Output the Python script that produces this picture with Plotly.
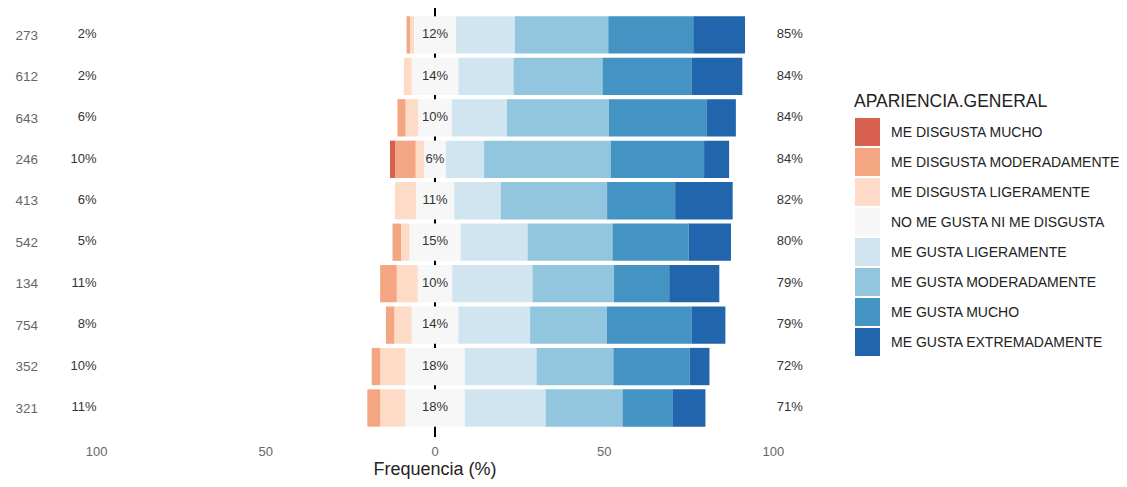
import plotly.graph_objects as go

# ---------------- data ----------------
rows = ["273", "612", "643", "246", "413", "542", "134", "754", "352", "321"]

levels = [
    "ME DISGUSTA MUCHO",
    "ME DISGUSTA MODERADAMENTE",
    "ME DISGUSTA LIGERAMENTE",
    "NO ME GUSTA NI ME DISGUSTA",
    "ME GUSTA LIGERAMENTE",
    "ME GUSTA MODERADAMENTE",
    "ME GUSTA MUCHO",
    "ME GUSTA EXTREMADAMENTE",
]

dis_mucho = [0.0, 0.0, 0.0, 1.5, 0.0, 0.0, 0.0, 0.0, 0.0, 0.0]
dis_mod = [1.0, 0.0, 2.4, 6.1, 0.0, 2.5, 4.9, 2.5, 2.5, 3.8]
dis_lig = [1.2, 2.3, 3.7, 2.5, 6.2, 2.5, 6.2, 5.1, 7.4, 7.4]
neutral = [12.4, 13.8, 10.0, 6.4, 11.3, 15.1, 10.2, 13.8, 17.6, 17.6]
gusta_lig = [17.4, 16.3, 16.2, 11.3, 13.8, 19.8, 23.7, 21.2, 21.2, 23.9]
gusta_mod = [27.6, 26.3, 30.2, 37.4, 31.4, 25.1, 24.1, 22.7, 22.7, 22.7]
gusta_mucho = [25.1, 26.4, 28.8, 27.6, 20.1, 22.5, 16.3, 25.1, 22.5, 14.9]
gusta_ext = [15.3, 14.9, 8.7, 7.4, 17.0, 12.5, 14.8, 9.9, 5.9, 9.6]

colors = ["#D6604D", "#F4A582", "#FDDBC7", "#F7F7F7",
          "#D1E5F0", "#92C5DE", "#4393C3", "#2166AC"]

x_ticks = [-100, -50, 0, 50, 100]
x_ticktext = ["100", "50", "0", "50", "100"]

# ---------------- layout geometry ----------------
# the html page body has an 8px margin, so page pixel = figure pixel + 8
OFF = 8
W, H = 1127, 487
ML, MT = 39 - OFF, 8 - OFF
PW = 792
PB = 437 - OFF            # panel bottom in figure pixels
MR = W - ML - PW
MB = H - PB
PH = H - MT - MB


def px_x(px):
    return (px - OFF - ML) / PW


def px_y(py):
    return 1 - (py - OFF - MT) / PH


fig = go.Figure()

bar_kw = dict(orientation="h", y=rows, width=0.9, showlegend=False,
              marker_line_width=0, hoverinfo="skip")

# negative side (stacked outward from 0)
fig.add_trace(go.Bar(x=[-v / 2 for v in neutral], marker_color=colors[3], **bar_kw))
fig.add_trace(go.Bar(x=[-v for v in dis_lig], marker_color=colors[2], **bar_kw))
fig.add_trace(go.Bar(x=[-v for v in dis_mod], marker_color=colors[1], **bar_kw))
fig.add_trace(go.Bar(x=[-v for v in dis_mucho], marker_color=colors[0], **bar_kw))
# positive side
fig.add_trace(go.Bar(x=[v / 2 for v in neutral], marker_color=colors[3], **bar_kw))
fig.add_trace(go.Bar(x=gusta_lig, marker_color=colors[4], **bar_kw))
fig.add_trace(go.Bar(x=gusta_mod, marker_color=colors[5], **bar_kw))
fig.add_trace(go.Bar(x=gusta_mucho, marker_color=colors[6], **bar_kw))
fig.add_trace(go.Bar(x=gusta_ext, marker_color=colors[7], **bar_kw))

low = [a + b + c for a, b, c in zip(dis_mucho, dis_mod, dis_lig)]
high = [a + b + c + d for a, b, c, d in zip(gusta_lig, gusta_mod, gusta_mucho, gusta_ext)]

font_main = "Liberation Sans, Arial, sans-serif"

# percentage labels
fig.add_trace(go.Scatter(
    x=[-100] * len(rows), y=rows, mode="text",
    text=[f"{round(v):d}%" for v in low], textposition="middle left",
    textfont=dict(size=13, color="#333333", family=font_main),
    showlegend=False, hoverinfo="skip"))
fig.add_trace(go.Scatter(
    x=[0] * len(rows), y=rows, mode="text",
    text=[f"{round(v):d}%" for v in neutral], textposition="middle center",
    textfont=dict(size=13, color="#333333", family=font_main),
    showlegend=False, hoverinfo="skip"))
fig.add_trace(go.Scatter(
    x=[101] * len(rows), y=rows, mode="text",
    text=[f"{round(v):d}%" for v in high], textposition="middle right",
    textfont=dict(size=13, color="#333333", family=font_main),
    showlegend=False, hoverinfo="skip"))

# vertical zero line (behind the bars)
fig.add_shape(type="line", x0=0, x1=0, xref="x", y0=0, y1=1, yref="paper",
              line=dict(color="black", width=2), layer="below")

# manual legend
fig.add_annotation(x=px_x(852), y=px_y(101), xref="paper", yref="paper",
                   text="APARIENCIA.GENERAL", showarrow=False,
                   xanchor="left", yanchor="middle",
                   font=dict(size=17.5, color="#222222", family=font_main))
for i, (lab, col) in enumerate(zip(levels, colors)):
    cy = 132 + 30 * i
    fig.add_shape(type="rect", xref="paper", yref="paper",
                  x0=px_x(855), x1=px_x(880), y0=px_y(cy - 14), y1=px_y(cy + 14),
                  fillcolor=col, line=dict(width=0))
    fig.add_annotation(x=px_x(889), y=px_y(cy), xref="paper", yref="paper",
                       text=lab, showarrow=False, xanchor="left", yanchor="middle",
                       font=dict(size=14, color="#222222", family=font_main))

fig.update_layout(
    width=W, height=H,
    margin=dict(l=ML, r=MR, t=MT, b=MB, pad=0, autoexpand=False),
    barmode="relative", bargap=0.1,
    plot_bgcolor="white", paper_bgcolor="white",
    font=dict(family=font_main),
    showlegend=False,
    xaxis=dict(range=[-117, 117], tickvals=x_ticks, ticktext=x_ticktext,
               showgrid=False, zeroline=False, showline=False, automargin=False,
               ticks="outside", ticklen=2, tickcolor="rgba(0,0,0,0)",
               tickfont=dict(size=13, color="#666666"),
               title=dict(text="Frequencia (%)", standoff=0,
                          font=dict(size=18, color="#222222"))),
    yaxis=dict(type="category", categoryorder="array", categoryarray=rows,
               range=[9.7, -0.65], showgrid=False, zeroline=False, showline=False,
               automargin=False, ticks="",
               tickfont=dict(size=13.5, color="#666666")),
)

fig.write_html("out.html")
